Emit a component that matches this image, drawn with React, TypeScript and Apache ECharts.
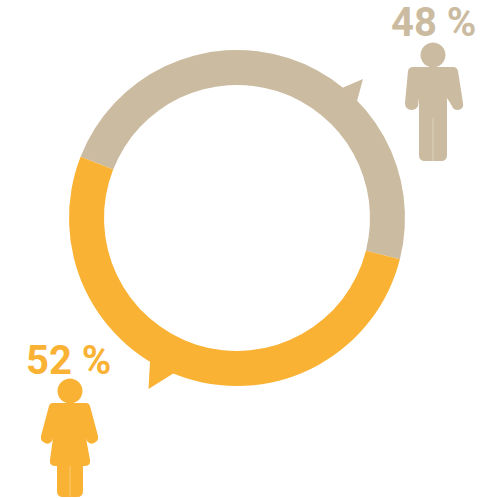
import React, { useEffect, useRef } from "react";
import * as echarts from "echarts";

const categories = ["Men", "Women"];
const values = [48, 52];
const labels = ["48 %", "52 %"];
const colors = ["#CBBBA0", "#F9B233"];

const manBody =
  "M413 67 L453 67 Q457 67 458 71 L463 103 Q464 109 458 110 Q453 110 452 106 L447 98 L447 155 Q447 161 441 161 L425 161 Q419 161 419 155 L419 98 L418 106 Q416 110 411 110 Q405 109 405 103 L408 71 Q409 67 413 67 Z";
const womanBody =
  "M53 403 L86 403 Q89 403 90 406 L98 436 Q99 441 94 443 Q90 445 87 441 L86 438 L90 460 Q91 466 84 466 L83 466 L83 491 Q83 497 77 497 L63 497 Q57 497 57 491 L57 466 L56 466 Q49 466 50 460 L53 438 L52 441 Q49 445 45 443 Q40 441 41 436 L49 406 Q50 403 53 403 Z";

echarts.graphic.registerShape("manBody", echarts.graphic.extendPath(manBody, {}));
echarts.graphic.registerShape("womanBody", echarts.graphic.extendPath(womanBody, {}));

export default function App() {
  const ref = useRef<HTMLDivElement>(null);
  useEffect(() => {
    const chart = echarts.init(ref.current!, null, { renderer: "svg" });
    const font = { fontFamily: "Roboto", fontWeight: 700, fontSize: 40 };
    chart.setOption({
      animation: false,
      backgroundColor: "#ffffff",
      series: [
        {
          type: "pie",
          center: [237, 218],
          radius: [133, 168],
          startAngle: 158.6,
          clockwise: true,
          label: { show: false },
          labelLine: { show: false },
          silent: true,
          data: categories.map((name, i) => ({
            name,
            value: values[i],
            itemStyle: { color: colors[i] },
          })),
        },
      ],
      graphic: [
        { type: "polygon", shape: { points: [[342, 88], [363, 79], [357, 101], [350, 105], [335, 92]] }, style: { fill: colors[0] } },
        { type: "polygon", shape: { points: [[150, 362], [148.5, 389], [174, 373], [180, 365], [155, 350]] }, style: { fill: colors[1] } },
        { type: "text", x: 391, y: 2, style: { text: labels[0], fill: colors[0], ...font } },
        { type: "text", x: 26, y: 340, style: { text: labels[1], fill: colors[1], ...font } },
        { type: "circle", shape: { cx: 433, cy: 55, r: 12.5 }, style: { fill: colors[0] } },
        { type: "manBody", style: { fill: colors[0] } },
        { type: "line", shape: { x1: 433, y1: 118, x2: 433, y2: 161 }, style: { stroke: "#DCD2C0", lineWidth: 1 } },
        { type: "circle", shape: { cx: 70, cy: 391, r: 12.5 }, style: { fill: colors[1] } },
        { type: "womanBody", style: { fill: colors[1] } },
        { type: "line", shape: { x1: 70, y1: 466, x2: 70, y2: 497 }, style: { stroke: "#FBCB74", lineWidth: 1 } },
      ],
    });
    return () => chart.dispose();
  }, []);
  return <div ref={ref} style={{ position: "absolute", left: 0, top: 0, width: 488, height: 498 }} />;
}
